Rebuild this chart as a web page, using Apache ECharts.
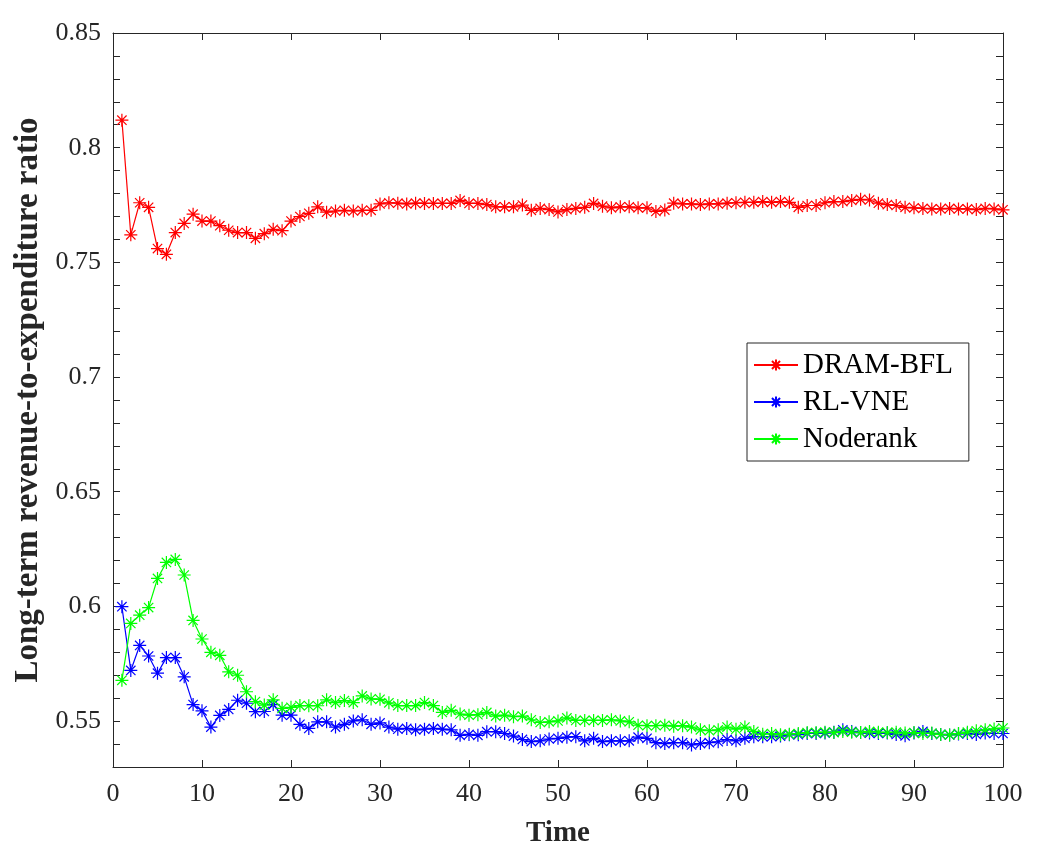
<!DOCTYPE html>
<html>
<head>
<meta charset="utf-8">
<script src="https://cdn.jsdelivr.net/npm/echarts@6/dist/echarts.min.js"></script>
<style>
html,body{margin:0;padding:0;background:#fff;}
#chart{width:1042px;height:867px;}
</style>
</head>
<body>
<div id="chart"></div>
<script>
const seriesNames = ['DRAM-BFL', 'RL-VNE', 'Noderank'];
const seriesColors = ['#ff0000', '#0000ff', '#00ff00'];
const xTickLabels = [0,10,20,30,40,50,60,70,80,90,100];
const yTickLabels = [0.55,0.6,0.65,0.7,0.75,0.8,0.85];

const dramBfl = [
0.812,0.762,0.776,0.774,0.756,0.7535,0.763,0.767,0.771,0.768,
0.768,0.766,0.764,0.763,0.763,0.7605,0.7625,0.7644,0.7638,0.768,
0.770,0.7714,0.7742,0.7719,0.7724,0.7727,0.7724,0.7727,0.7727,0.7755,
0.776,0.7758,0.7755,0.7758,0.7757,0.7757,0.7757,0.7757,0.777,0.7757,
0.7757,0.7752,0.7742,0.7742,0.7742,0.775,0.7727,0.7735,0.773,0.772,
0.773,0.7735,0.774,0.7757,0.7745,0.7738,0.7742,0.7742,0.7738,0.7738,
0.7722,0.7728,0.7758,0.7755,0.7755,0.7752,0.7755,0.7755,0.7758,0.776,
0.7762,0.7762,0.7765,0.7762,0.7765,0.7762,0.774,0.7748,0.7748,0.776,
0.7765,0.7765,0.777,0.7775,0.7772,0.7758,0.7752,0.7748,0.774,0.7738,
0.7735,0.7733,0.7733,0.7735,0.7733,0.7733,0.773,0.7735,0.7733,0.7729
];
const rlVne = [
0.5999,0.5721,0.583,0.5784,0.5709,0.5777,0.5777,0.5693,0.5572,0.5545,
0.5474,0.5525,0.5551,0.5591,0.5578,0.5541,0.5542,0.5572,0.5526,0.5526,
0.5486,0.5468,0.5497,0.5497,0.5474,0.5486,0.5501,0.5506,0.5486,0.5492,
0.5474,0.5465,0.5468,0.5462,0.5465,0.5468,0.5465,0.5462,0.5438,0.5442,
0.5438,0.5454,0.5454,0.5446,0.5435,0.542,0.5411,0.5414,0.5422,0.5425,
0.543,0.5432,0.5414,0.5425,0.5411,0.5414,0.5414,0.5414,0.543,0.5425,
0.5406,0.5402,0.5406,0.5406,0.5396,0.5402,0.5406,0.541,0.542,0.5414,
0.5425,0.5432,0.5432,0.5432,0.5435,0.5441,0.5441,0.5446,0.5446,0.5448,
0.5452,0.5462,0.5455,0.5450,0.5448,0.5446,0.5448,0.5442,0.5436,0.5448,
0.5455,0.5446,0.5442,0.5440,0.5444,0.5446,0.5442,0.5448,0.5446,0.5446
];
const noderank = [
0.5678,0.5926,0.5962,0.5995,0.6122,0.6192,0.6205,0.6137,0.5939,0.5858,
0.58,0.5787,0.5715,0.57,0.5628,0.5585,0.557,0.5593,0.5556,0.556,
0.5568,0.5567,0.5567,0.5593,0.5581,0.559,0.5581,0.561,0.5597,0.5595,
0.558,0.5568,0.5568,0.5568,0.5581,0.5568,0.5538,0.5547,0.5531,0.5526,
0.5528,0.5538,0.5522,0.5526,0.5519,0.5522,0.5506,0.5494,0.5497,0.5501,
0.5514,0.5503,0.5503,0.5503,0.5503,0.5506,0.5501,0.5497,0.5482,0.548,
0.548,0.5482,0.5478,0.548,0.5474,0.5462,0.5458,0.5462,0.5474,0.5465,
0.5474,0.5455,0.5443,0.5446,0.5441,0.5443,0.5446,0.545,0.5450,0.5452,
0.5450,0.5455,0.5452,0.5450,0.5455,0.5452,0.5450,0.5452,0.5448,0.5450,
0.5446,0.5448,0.5442,0.5440,0.5446,0.5452,0.5458,0.5462,0.5466,0.5470
];
const timeSteps = dramBfl.map((_, i) => i + 1);
const allSeries = [dramBfl, rlVne, noderank];

const yMin = 0.53, yMax = 0.85, yTickStep = 0.01;

const axisColor = '#262626';
const font = '"Liberation Serif","Times New Roman",serif';
const asterisk = 'path://M0,-1L0,1M-1,0L1,0M-0.72,-0.72L0.72,0.72M-0.72,0.72L0.72,-0.72';

function yLabel(v) {
  const hit = yTickLabels.find(t => Math.abs(t - v) < 1e-6);
  return hit === undefined ? '' : String(hit);
}

const chart = echarts.init(document.getElementById('chart'), null, {renderer: 'canvas'});
const commonX = {
  type: 'value', min: 0, max: 100, interval: 10,
  axisLine: {show: true, onZero: false, lineStyle: {color: axisColor, width: 1}},
  axisTick: {show: true, inside: true, length: 7, lineStyle: {color: axisColor}},
  splitLine: {show: false}
};
const commonY = {
  type: 'value', min: yMin, max: yMax, interval: yTickStep,
  axisLine: {show: true, onZero: false, lineStyle: {color: axisColor, width: 1}},
  axisTick: {show: true, inside: true, length: 7, lineStyle: {color: axisColor}},
  splitLine: {show: false}
};
chart.setOption({
  animation: false,
  backgroundColor: '#ffffff',
  textStyle: {fontFamily: font},
  grid: {left: 113, right: 39, top: 33, bottom: 100, containLabel: false},
  legend: {
    orient: 'vertical', left: 747, top: 343,
    data: seriesNames,
    itemWidth: 44, itemHeight: 14, itemGap: 1,
    padding: [4, 16, 4, 6],
    borderColor: axisColor, borderWidth: 1, backgroundColor: '#ffffff',
    textStyle: {fontFamily: font, fontSize: 29, color: '#000', lineHeight: 36}
  },
  xAxis: [
    Object.assign({}, commonX, {
      position: 'bottom',
      name: 'Time', nameLocation: 'middle', nameGap: 52,
      nameTextStyle: {fontFamily: font, fontSize: 29, fontWeight: 'bold', color: axisColor},
      axisLabel: {show: true, margin: 14, fontFamily: font, fontSize: 26, color: axisColor,
        formatter: v => xTickLabels.indexOf(Math.round(v)) >= 0 ? String(Math.round(v)) : ''}
    }),
    Object.assign({}, commonX, {position: 'top', axisLabel: {show: false}})
  ],
  yAxis: [
    Object.assign({}, commonY, {
      position: 'left',
      name: 'Long-term revenue-to-expenditure ratio', nameLocation: 'middle', nameGap: 48,
      nameTextStyle: {fontFamily: font, fontSize: 33, fontWeight: 'bold', color: axisColor},
      axisLabel: {show: true, interval: 0, hideOverlap: false, margin: 12, fontFamily: font, fontSize: 26, color: axisColor,
        formatter: yLabel}
    }),
    Object.assign({}, commonY, {position: 'right', axisLabel: {show: false}})
  ],
  series: allSeries.map((vals, si) => ({
    name: seriesNames[si],
    type: 'line',
    xAxisIndex: 0, yAxisIndex: 0,
    data: vals.map((v, i) => [timeSteps[i], v]),
    symbol: asterisk,
    symbolSize: 13,
    showAllSymbol: true,
    lineStyle: {color: seriesColors[si], width: 1.2},
    itemStyle: {color: 'rgba(0,0,0,0)', borderColor: seriesColors[si], borderWidth: 1.2},
    emphasis: {disabled: true}
  }))
});
</script>
</body>
</html>
